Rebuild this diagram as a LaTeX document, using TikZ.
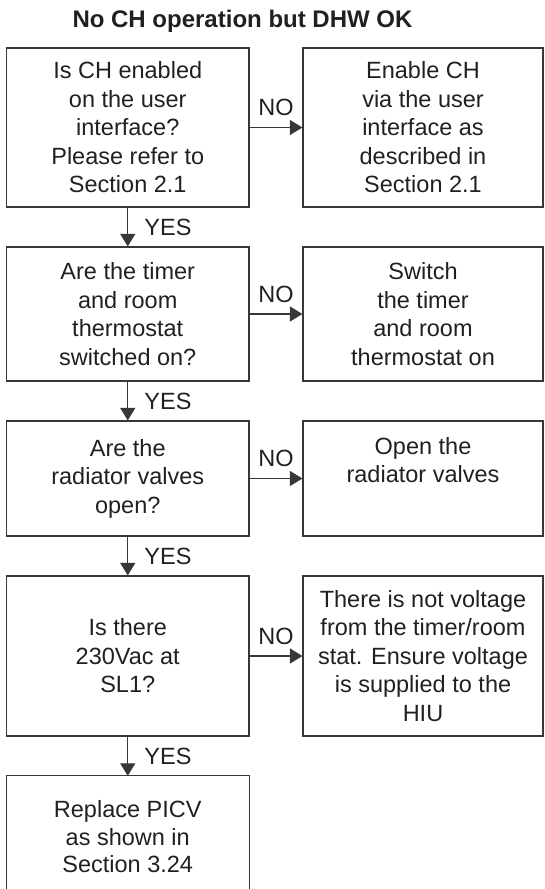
\documentclass[tikz,border=0pt]{standalone}
\usepackage{fontspec}
\setmainfont{Liberation Sans}
\usetikzlibrary{arrows.meta}
\definecolor{ink}{RGB}{35,31,32}
\definecolor{edge}{RGB}{55,55,55}
\begin{document}
\begin{tikzpicture}[x=1pt,y=-1pt,
  box/.style={draw=edge, line width=1.2pt, rectangle, align=center, inner sep=0pt, text=ink, font=\fontsize{23.5}{28.5}\selectfont},
  openbox/.style={rectangle, align=center, inner sep=0pt, text=ink, font=\fontsize{23.5}{27.5}\selectfont},
  lbl/.style={text=ink, font=\fontsize{23.5}{28}\selectfont, inner sep=0pt},
  flow/.style={draw=edge, line width=1.2pt, -{Triangle[length=12.5pt,width=15pt]}},
  leftbox/.style={box, minimum width=242.5pt},
  rightbox/.style={box, minimum width=240pt}]
\useasboundingbox (0,0) rectangle (544,889);

\node[text=ink, font=\bfseries\fontsize{24}{28}\selectfont, inner sep=0pt] (title) at (242.5,21) {No CH operation but DHW OK};

% left column
\node[leftbox, minimum height=159pt] (q1) at (127.75,127.5) {Is CH enabled\\on the user\\interface?\\Please refer to\\Section 2.1};
\node[leftbox, minimum height=134pt] (q2) at (127.75,314) {Are the timer\\and room\\thermostat\\switched on?};
\node[leftbox, minimum height=115pt] (q3) at (127.75,478.5) {Are the\\radiator valves\\open?};
\node[leftbox, minimum height=160pt] (q4) at (127.75,656) {Is there\\230Vac at\\SL1?};
\node[openbox, minimum width=242.5pt, minimum height=122pt] (q5) at (127.75,837) {Replace PICV\\as shown in\\Section 3.24};
\draw[draw=edge, line width=1.2pt] (q5.south west) -- (q5.north west) -- (q5.north east) -- (q5.south east);

% right column
\node[rightbox, minimum height=159pt] (a1) at (423,127.5) {Enable CH\\via the user\\interface as\\described in\\Section 2.1};
\node[rightbox, minimum height=134pt] (a2) at (423,314) {Switch\\the timer\\and room\\thermostat on};
\node[rightbox, minimum height=115pt] (a3) at (423,478.5) {Open the\\radiator valves\\\strut};
\node[rightbox, minimum height=160pt] (a4) at (423,656) {There is not voltage\\from the timer/room\\stat. Ensure voltage\\is supplied to the\\HIU};

% NO connectors
\draw[flow] (q1.east) -- (a1.west);
\draw[flow] (q2.east) -- (a2.west);
\draw[flow] (q3.east) -- (a3.west);
\draw[flow] (q4.east) -- (a4.west);
\node[lbl] (no1) at (276,107.5) {NO};
\node[lbl] (no2) at (276,294) {NO};
\node[lbl] (no3) at (276,458.5) {NO};
\node[lbl] (no4) at (276,636) {NO};

% YES connectors
\draw[flow] (q1.south) -- (q2.north);
\draw[flow] (q2.south) -- (q3.north);
\draw[flow] (q3.south) -- (q4.north);
\draw[flow] (q4.south) -- (q5.north);
\node[lbl] (yes1) at (168,227) {YES};
\node[lbl] (yes2) at (168,401) {YES};
\node[lbl] (yes3) at (168,556) {YES};
\node[lbl] (yes4) at (168,756) {YES};
\end{tikzpicture}
\end{document}
